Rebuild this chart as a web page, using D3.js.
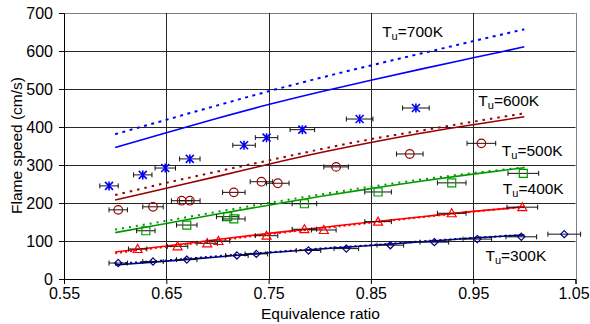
<!DOCTYPE html>
<html lang="en">
<head>
  <meta charset="UTF-8">
  <title>Flame speed</title>
  <script src="https://cdn.jsdelivr.net/npm/d3@7"></script>
  <style>
    body { margin: 0; background: #fff; }
    text { font-family: "Liberation Sans", Arial, sans-serif; fill: #000; }
  </style>
</head>
<body>
  <script>
var margin = {top: 13, right: 14.5, bottom: 45, left: 64},
    width = 590 - margin.left - margin.right,
    height = 324 - margin.top - margin.bottom;

var blue = "#0000ff",
    maroon = "#990000",
    green = "#009900",
    red = "#ff0000",
    navy = "#000080";

// model curves, sampled on phiGrid
var phiGrid = [0.60, 0.65, 0.70, 0.75, 0.80, 0.85, 0.90, 0.95, 1.00];
var s700 = [346, 385, 423, 459, 492, 523, 553, 582, 611],
    d700 = [381, 419, 457, 494, 529, 562, 594, 626, 657],
    s600 = [208, 239, 270, 302, 332, 359, 384, 406, 427],
    d600 = [221, 253, 283, 312, 341, 368, 391, 414, 436],
    s400 = [122, 146, 171, 194, 217, 238, 258, 276, 293],
    d400 = [130, 153, 177, 200, 222, 243, 262, 279, 294],
    sRed = [71, 87, 104, 120, 135, 150, 164, 178, 190],
    dRed = [68, 85, 101, 118, 133, 148, 163, 177, 190],
    s300 = [37, 47, 58, 69, 79, 88, 98, 108, 116],
    d300 = [40, 49, 60, 70, 80, 89, 99, 108, 116];

// measurements
var starX = [0.594, 0.627, 0.649, 0.673, 0.726, 0.748, 0.783, 0.839, 0.894],
    starY = [245, 274, 292, 316, 352, 372, 393, 421, 450],
    starE = [0.009, 0.009, 0.010, 0.010, 0.011, 0.011, 0.012, 0.013, 0.013];
var circX = [0.603, 0.637, 0.665, 0.673, 0.716, 0.743, 0.759, 0.816, 0.888, 0.958],
    circY = [182, 190, 206, 206, 228, 256, 252, 295, 329, 357],
    circE = [0.009, 0.010, 0.010, 0.010, 0.011, 0.011, 0.011, 0.012, 0.013, 0.014];
var sqX = [0.630, 0.670, 0.710, 0.716, 0.785, 0.857, 0.929, 0.999],
    sqY = [127, 142, 164, 158, 198, 229, 253, 278],
    sqE = [0.009, 0.010, 0.011, 0.011, 0.012, 0.013, 0.014, 0.015];
var triX = [0.622, 0.661, 0.690, 0.701, 0.748, 0.785, 0.804, 0.857, 0.929, 0.998],
    triY = [79, 86, 94, 100, 114, 131, 129, 151, 173, 189],
    triE = [0.009, 0.010, 0.010, 0.011, 0.011, 0.012, 0.012, 0.013, 0.014, 0.015];
var diaX = [0.603, 0.637, 0.670, 0.719, 0.738, 0.789, 0.826, 0.869, 0.912, 0.954, 0.997, 1.039],
    diaY = [42, 46, 51, 62, 66, 75, 80, 89, 97, 105, 111, 118],
    diaE = [0.009, 0.010, 0.010, 0.011, 0.011, 0.012, 0.012, 0.013, 0.014, 0.014, 0.015, 0.016];

var xTicks = [0.55, 0.65, 0.75, 0.85, 0.95, 1.05],
    yTicks = [0, 100, 200, 300, 400, 500, 600, 700];

var labelText = ["700K", "600K", "500K", "400K", "300K"],
    labelX = [0.861, 0.955, 0.978, 0.979, 0.962],
    labelY = [638, 455, 324, 224, 48];

var svg = d3.select("body").append("svg")
    .attr("width", width + margin.left + margin.right)
    .attr("height", height + margin.top + margin.bottom);

var g = svg.append("g")
    .attr("transform", "translate(" + margin.left + "," + margin.top + ")");

var x = d3.scaleLinear().domain([0.55, 1.05]).range([0, width]);
var y = d3.scaleLinear().domain([0, 700]).range([height, 0]);

// grid
g.selectAll(".hgrid").data(yTicks.slice(1))
  .enter().append("line")
    .attr("x1", 0).attr("x2", width)
    .attr("y1", function(d) { return Math.round(y(d)) + 0.5; })
    .attr("y2", function(d) { return Math.round(y(d)) + 0.5; })
    .style("stroke", function(d) { return d == 700 ? "#808080" : "#262626"; });

g.selectAll(".vgrid").data(xTicks.slice(1))
  .enter().append("line")
    .attr("y1", 0).attr("y2", height)
    .attr("x1", function(d) { return Math.round(x(d)) + 0.5; })
    .attr("x2", function(d) { return Math.round(x(d)) + 0.5; })
    .style("stroke", function(d) { return d == 1.05 ? "#808080" : "#262626"; });

// axes
var xAxis = g.append("g")
    .attr("transform", "translate(0," + height + ")")
    .call(d3.axisBottom(x).tickValues(xTicks).tickFormat(d3.format(".2f")).tickSize(5).tickPadding(4));
var yAxis = g.append("g")
    .call(d3.axisLeft(y).tickValues(yTicks).tickSize(5).tickPadding(6));
[xAxis, yAxis].forEach(function(a) {
  a.select(".domain").style("stroke", "#000");
  a.selectAll(".tick line").style("stroke", "#000");
  a.selectAll("text").style("font-size", "16px").style("font-family", "'Liberation Sans', Arial, sans-serif");
});
// last x label sits against the window edge
xAxis.selectAll(".tick text").filter(function(d) { return d == 1.05; }).attr("dx", -2);

// model lines
var line = d3.line()
    .x(function(d, i) { return x(phiGrid[i]); })
    .y(function(d) { return y(d); })
    .curve(d3.curveMonotoneX);

var curves = [
  {v: d300, c: navy, dash: "2,3"}, {v: s300, c: navy},
  {v: dRed, c: red, dash: "2,3"}, {v: sRed, c: red},
  {v: d400, c: green, dash: "2,5"}, {v: s400, c: green},
  {v: d600, c: maroon, dash: "2.5,5"}, {v: s600, c: maroon},
  {v: d700, c: blue, dash: "3,4.5"}, {v: s700, c: blue}
];
g.selectAll(".curve").data(curves)
  .enter().append("path")
    .attr("d", function(d) { return line(d.v); })
    .style("fill", "none")
    .style("stroke", function(d) { return d.c; })
    .style("stroke-width", function(d) { return d.dash ? 2 : 1.6; })
    .style("stroke-dasharray", function(d) { return d.dash || null; });

// measured points with horizontal error bars
var sets = [
  {xs: starX, ys: starY, es: starE, c: blue, shape: "star"},
  {xs: circX, ys: circY, es: circE, c: maroon, shape: "circle"},
  {xs: sqX, ys: sqY, es: sqE, c: green, shape: "square"},
  {xs: triX, ys: triY, es: triE, c: red, shape: "triangle"},
  {xs: diaX, ys: diaY, es: diaE, c: navy, shape: "diamond"}
];

var shapes = {
  star: "M-4,-4L4,4M-4,4L4,-4M0,-4.5L0,4.5",
  circle: "M4.3,0A4.3,4.3 0 1,1 -4.3,0A4.3,4.3 0 1,1 4.3,0Z",
  square: "M-4,-4H4V4H-4Z",
  triangle: "M0,-4.5L4.5,3.5H-4.5Z",
  diamond: "M0,-3.6L3.6,0L0,3.6L-3.6,0Z"
};

sets.forEach(function(s) {
  var pts = s.xs.map(function(v, i) { return {x: v, y: s.ys[i], e: s.es[i]}; });
  var bars = g.append("g").selectAll("g").data(pts).enter().append("g")
      .attr("transform", function(d) { return "translate(0," + y(d.y) + ")"; })
      .style("stroke", "#111").style("stroke-width", 1);
  bars.append("line")
      .attr("x1", function(d) { return x(d.x - d.e); })
      .attr("x2", function(d) { return x(d.x + d.e); });
  bars.append("line")
      .attr("x1", function(d) { return x(d.x - d.e); })
      .attr("x2", function(d) { return x(d.x - d.e); })
      .attr("y1", -2.5).attr("y2", 2.5);
  bars.append("line")
      .attr("x1", function(d) { return x(d.x + d.e); })
      .attr("x2", function(d) { return x(d.x + d.e); })
      .attr("y1", -2.5).attr("y2", 2.5);
});

sets.forEach(function(s) {
  var pts = s.xs.map(function(v, i) { return {x: v, y: s.ys[i]}; });
  g.append("g").selectAll("path").data(pts).enter().append("path")
      .attr("transform", function(d) { return "translate(" + x(d.x) + "," + y(d.y) + ")"; })
      .attr("d", shapes[s.shape])
      .style("fill", "none")
      .style("stroke", s.c)
      .style("stroke-width", s.shape == "star" ? 1.6 : 1.2);
});

// temperature labels
labelText.forEach(function(t, i) {
  var tx = g.append("text")
      .attr("x", x(labelX[i]))
      .attr("y", y(labelY[i]))
      .style("font-size", "15.5px");
  tx.append("tspan").text("T");
  tx.append("tspan").text("u").attr("dy", 3).style("font-size", "11px");
  tx.append("tspan").text("=" + t).attr("dy", -3);
});

// axis titles
svg.append("text")
    .attr("x", 320.5).attr("y", 319)
    .attr("text-anchor", "middle")
    .style("font-size", "15.5px")
    .text("Equivalence ratio");

svg.append("text")
    .attr("transform", "translate(22,145.5) rotate(-90)")
    .attr("text-anchor", "middle")
    .style("font-size", "15.5px")
    .text("Flame speed (cm/s)");
  </script>
</body>
</html>
